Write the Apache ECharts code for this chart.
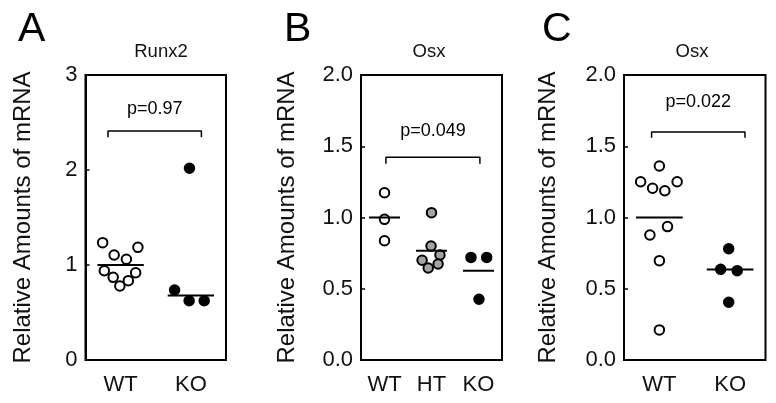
<!DOCTYPE html>
<html>
<head>
<meta charset="utf-8">
<script src="https://cdn.jsdelivr.net/npm/echarts@6/dist/echarts.min.js"></script>
<style>
html,body{margin:0;padding:0;background:#fff;}
#chart{width:776px;height:403px;}
</style>
</head>
<body>
<div id="chart"></div>
<script>
// ---------- DATA ----------
const panelLetters = ['A', 'B', 'C'];
const panelTitles = ['Runx2', 'Osx', 'Osx'];
const yAxisTitle = 'Relative Amounts of mRNA';

const catsA = ['WT', 'KO'];
const catsB = ['WT', 'HT', 'KO'];
const catsC = ['WT', 'KO'];

const yTicksA = [0, 1, 2, 3];
const yTicksB = [0.0, 0.5, 1.0, 1.5, 2.0];
const yTicksC = [0.0, 0.5, 1.0, 1.5, 2.0];

// Panel A (Runx2)
const A_WT = [1.235, 1.186, 1.105, 1.06, 0.94, 0.87, 0.919, 0.835, 0.779];
const A_WT_jitter = [-0.256, 0.246, -0.092, 0.082, -0.232, -0.106, 0.214, 0.11, -0.011];
const A_KO = [0.737, 0.624, 0.624, 2.018];
const A_KO_jitter = [-0.232, -0.025, 0.19, -0.02];
const A_lines = [1.0, 0.68];

// Panel B (Osx, WT / HT / KO)
const B_WT = [1.174, 0.987, 0.837];
const B_WT_jitter = [0, 0, 0];
const B_HT = [1.034, 0.80, 0.737, 0.70, 0.674, 0.646];
const B_HT_jitter = [0, -0.01, 0.18, -0.2, 0.14, -0.07];
const B_KO = [0.72, 0.72, 0.426];
const B_KO_jitter = [-0.16, 0.174, 0.01];
const B_lines = [1.0, 0.767, 0.627];

// Panel C (Osx, WT / KO)
const C_WT = [1.361, 1.251, 1.205, 1.188, 1.251, 0.936, 0.877, 0.697, 0.211];
const C_WT_jitter = [0, -0.265, -0.096, 0.077, 0.251, 0.115, -0.134, 0, 0];
const C_KO = [0.781, 0.636, 0.627, 0.405];
const C_KO_jitter = [-0.02, -0.134, 0.10, -0.02];
const C_lines = [1.0, 0.635];

// p-value annotations
const pValues = ['p=0.97', 'p=0.049', 'p=0.022'];
const bracketX = [[0.32, 1.65], [0.53, 2.53], [0.39, 1.71]];
const bracketTop = [2.41, 1.422, 1.60];
const bracketDrop = [0.065, 0.045, 0.04];
const pTextY = [2.64, 1.61, 1.81];

// ---------- LAYOUT ----------
const FONT = 'Liberation Sans, Arial, sans-serif';
const grids = [
  {left: 85.5, top: 75, width: 140.5, height: 285},
  {left: 361, top: 75, width: 141, height: 285},
  {left: 624, top: 75, width: 141.5, height: 285}
];
const nameGaps = [50, 62, 64];
const letterLeft = [13, 279, 537];
const titleCenter = [156, 424, 687];

const panels = [
  {cats: catsA, ticks: yTicksA, max: 3, interval: 1, digits: 0,
   groups: [{v: A_WT, j: A_WT_jitter, fill: '#fff'}, {v: A_KO, j: A_KO_jitter, fill: '#000'}],
   lines: A_lines},
  {cats: catsB, ticks: yTicksB, max: 2, interval: 0.5, digits: 1,
   groups: [{v: B_WT, j: B_WT_jitter, fill: '#fff'}, {v: B_HT, j: B_HT_jitter, fill: '#a3a3a3'}, {v: B_KO, j: B_KO_jitter, fill: '#000'}],
   lines: B_lines},
  {cats: catsC, ticks: yTicksC, max: 2, interval: 0.5, digits: 1,
   groups: [{v: C_WT, j: C_WT_jitter, fill: '#fff'}, {v: C_KO, j: C_KO_jitter, fill: '#000'}],
   lines: C_lines}
];

const option = {
  animation: false,
  backgroundColor: '#fff',
  textStyle: {fontFamily: FONT},
  grid: [], xAxis: [], yAxis: [], series: [], title: []
};

panels.forEach((p, i) => {
  const g = grids[i];
  option.grid.push(Object.assign({show: true, borderColor: '#000', borderWidth: 2, backgroundColor: 'transparent'}, g));
  // hidden value x axis for jittered points
  option.xAxis.push({type: 'value', gridIndex: i, min: 0, max: p.cats.length, show: false});
  // category axis only for labels
  option.xAxis.push({type: 'category', gridIndex: i, data: p.cats, position: 'bottom',
    axisLine: {show: false}, axisTick: {show: false}, splitLine: {show: false},
    axisLabel: {color: '#111', fontSize: 22, fontFamily: FONT, margin: 14}});
  option.yAxis.push({type: 'value', gridIndex: i, min: 0, max: p.max, interval: p.interval,
    name: yAxisTitle, nameLocation: 'middle', nameGap: nameGaps[i],
    nameTextStyle: {fontSize: 24, color: '#111', fontFamily: FONT},
    axisLine: {show: true, lineStyle: {color: '#000', width: 2}},
    axisTick: {show: true, inside: true, length: 4, lineStyle: {color: '#000', width: 1.5}},
    splitLine: {show: false},
    axisLabel: {color: '#111', fontSize: 22, fontFamily: FONT, margin: 8,
      formatter: v => v.toFixed(p.digits)}});
  const xIdx = i * 2;
  p.groups.forEach((grp, gi) => {
    option.series.push({
      type: 'scatter', xAxisIndex: xIdx, yAxisIndex: i, z: 3,
      symbol: 'circle', symbolSize: 9.5,
      itemStyle: {color: grp.fill, borderColor: '#000', borderWidth: 2, opacity: 1},
      data: grp.v.map((v, k) => [gi + 0.5 + grp.j[k], v])
    });
    const m = p.lines[gi];
    option.series.push({
      type: 'line', xAxisIndex: xIdx, yAxisIndex: i, z: 4, symbol: 'none',
      lineStyle: {color: '#000', width: 2},
      data: [[gi + 0.5 - 0.33, m], [gi + 0.5 + 0.33, m]]
    });
  });
  // bracket
  const [x1, x2] = bracketX[i];
  const yt = bracketTop[i], yb = yt - bracketDrop[i];
  option.series.push({
    type: 'line', xAxisIndex: xIdx, yAxisIndex: i, z: 4, symbol: 'none',
    lineStyle: {color: '#000', width: 1.5},
    data: [[x1, yb], [x1, yt], [x2, yt], [x2, yb]]
  });
  // p value text
  option.series.push({
    type: 'scatter', xAxisIndex: xIdx, yAxisIndex: i, symbolSize: 0, z: 5,
    itemStyle: {opacity: 1},
    label: {show: true, position: 'inside', formatter: pValues[i], color: '#000', opacity: 1, fontSize: 18, fontFamily: FONT},
    data: [[(x1 + x2) / 2, pTextY[i]]]
  });
  option.title.push({text: panelLetters[i], left: letterLeft[i], top: 4,
    textStyle: {fontSize: 41, fontWeight: 'normal', color: '#000', fontFamily: FONT}});
  option.title.push({text: panelTitles[i], left: titleCenter[i], top: 37, textAlign: 'center',
    textStyle: {fontSize: 18.5, fontWeight: 'normal', color: '#111', fontFamily: FONT}});
});

const chart = echarts.init(document.getElementById('chart'), null, {renderer: 'canvas'});
chart.setOption(option);
</script>
</body>
</html>
